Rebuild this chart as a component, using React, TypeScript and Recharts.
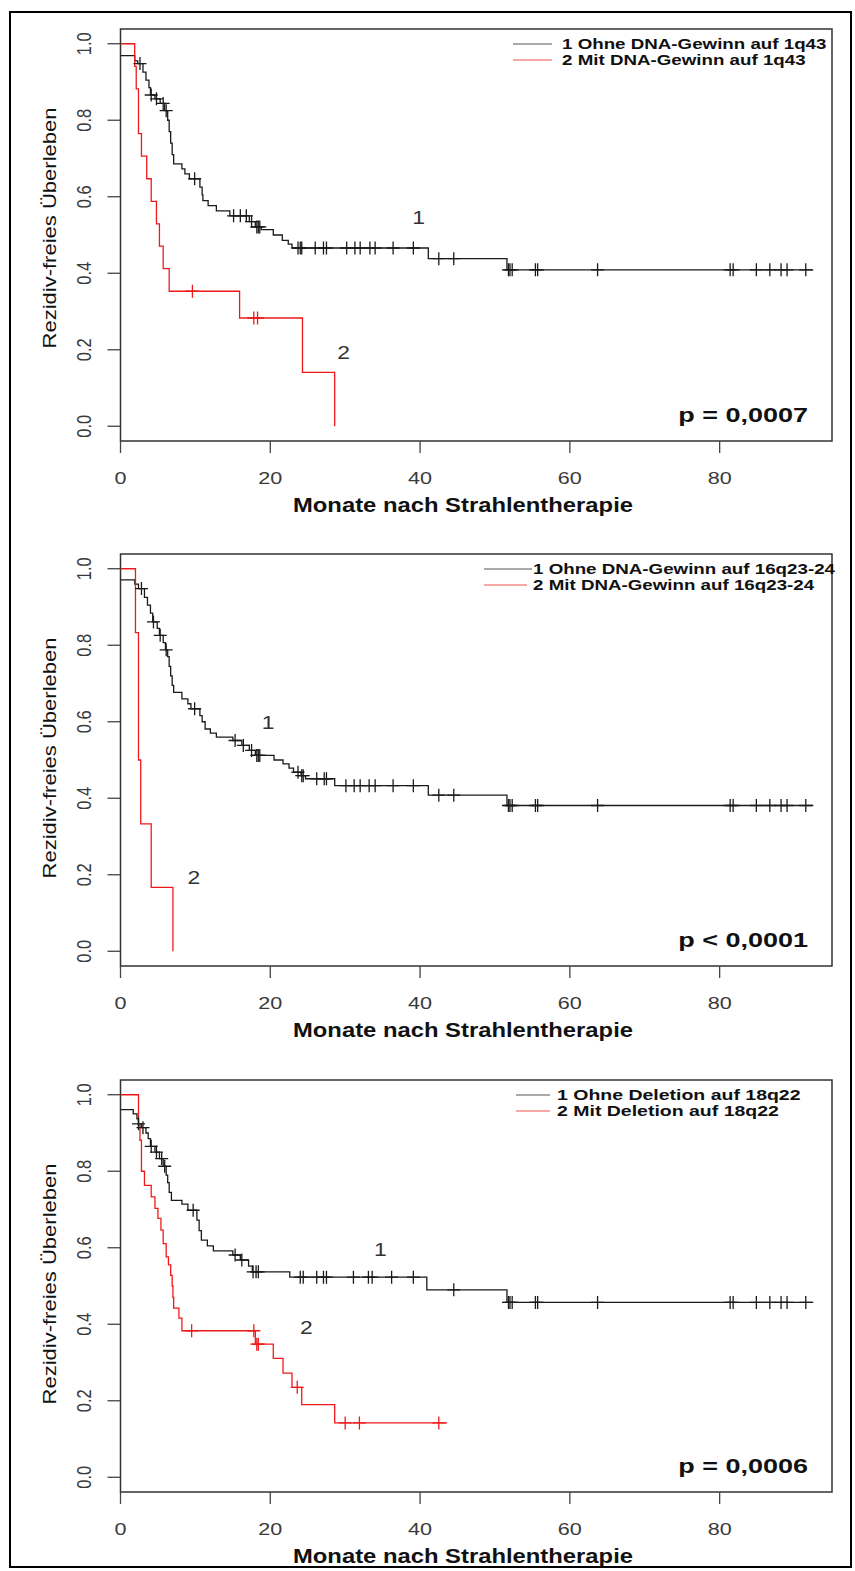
import React from 'react';
import { ComposedChart, Line, Scatter, XAxis, YAxis, ReferenceArea } from 'recharts';

const FONT = '"Liberation Sans", Arial, Helvetica, sans-serif';

const xTicks = [0, 20, 40, 60, 80];
const yTicks = [0, 0.2, 0.4, 0.6, 0.8, 1.0];
const xTitle = 'Monate nach Strahlentherapie';
const yTitle = 'Rezidiv-freies Überleben';

// Panel 1: DNA-Gewinn auf 1q43
const p1OhneTimes = [0, 1.9, 2.3, 3.0, 3.4, 3.8, 4.0, 4.6, 5.3, 5.9, 6.3, 6.5, 6.7, 6.9, 7.1, 8.2, 8.6, 9.2, 10.6, 10.9, 11.0, 11.7, 12.8, 14.6, 17.2, 18.0, 18.8, 20.4, 21.6, 22.4, 22.9, 41.1, 51.6];
const p1OhneSurv = [0.969, 0.955, 0.948, 0.926, 0.905, 0.885, 0.866, 0.856, 0.844, 0.825, 0.8, 0.77, 0.74, 0.71, 0.686, 0.673, 0.66, 0.647, 0.625, 0.605, 0.59, 0.577, 0.563, 0.55, 0.535, 0.521, 0.514, 0.5, 0.486, 0.476, 0.466, 0.438, 0.409];
const p1OhneCensor = [2.6, 4.1, 4.8, 5.7, 6.1, 9.9, 15.1, 16.0, 16.8, 17.5, 18.2, 18.4, 18.6, 23.7, 24.0, 24.2, 26.0, 27.1, 27.5, 30.2, 31.3, 32.0, 33.3, 34.0, 36.4, 39.1, 42.5, 44.5, 51.8, 52.0, 52.3, 55.4, 55.7, 63.7, 81.4, 81.8, 84.9, 86.7, 88.2, 89.0, 91.5];
const p1OhneEnd = 92.5;
const p1MitTimes = [0, 1.9, 2.1, 2.4, 2.8, 3.5, 4.1, 4.8, 5.2, 5.7, 6.5, 15.9, 24.3, 28.6];
const p1MitSurv = [1, 0.941, 0.882, 0.765, 0.706, 0.647, 0.588, 0.529, 0.471, 0.412, 0.353, 0.283, 0.141, 0];
const p1MitCensor = [9.6, 17.8, 18.3];
const p1MitEnd = 28.6;

// Panel 2: DNA-Gewinn auf 16q23-24
const p2OhneTimes = [0, 1.9, 2.4, 3.2, 3.6, 4.0, 4.3, 4.9, 5.2, 5.7, 6.0, 6.3, 6.5, 6.7, 6.9, 7.1, 8.2, 9.0, 9.4, 10.6, 10.9, 11.3, 12.0, 12.8, 15.0, 16.2, 17.2, 18.0, 20.5, 21.7, 22.5, 23.1, 24.1, 24.7, 28.6, 41.1, 51.6];
const p2OhneSurv = [0.971, 0.96, 0.948, 0.925, 0.905, 0.884, 0.861, 0.844, 0.826, 0.807, 0.788, 0.77, 0.745, 0.72, 0.695, 0.677, 0.66, 0.647, 0.634, 0.616, 0.6, 0.581, 0.57, 0.56, 0.551, 0.538, 0.525, 0.512, 0.5, 0.49, 0.479, 0.468, 0.459, 0.451, 0.433, 0.408, 0.381];
const p2OhneCensor = [2.8, 4.4, 5.3, 6.1, 9.9, 15.3, 16.4, 17.5, 18.2, 18.4, 18.6, 23.7, 24.2, 24.4, 26.2, 27.2, 27.5, 30.1, 31.2, 32.0, 33.2, 34.0, 36.4, 39.1, 42.5, 44.5, 51.8, 52.0, 52.3, 55.4, 55.7, 63.7, 81.4, 81.8, 84.9, 86.7, 88.2, 89.0, 91.5];
const p2OhneEnd = 92.5;
const p2MitTimes = [0, 2.0, 2.4, 2.7, 4.1, 7.0];
const p2MitSurv = [1, 0.833, 0.5, 0.333, 0.167, 0];
const p2MitCensor: number[] = [];
const p2MitEnd = 7.0;

// Panel 3: Deletion auf 18q22
const p3OhneTimes = [0, 1.7, 2.2, 2.4, 2.8, 3.4, 3.7, 4.0, 4.6, 5.2, 5.7, 6.1, 6.3, 6.5, 6.8, 8.2, 9.0, 10.2, 10.5, 10.8, 11.6, 12.4, 15.0, 16.0, 17.1, 17.6, 22.6, 40.9, 51.6];
const p3OhneSurv = [0.961, 0.95, 0.937, 0.924, 0.914, 0.9, 0.885, 0.865, 0.85, 0.833, 0.813, 0.79, 0.77, 0.745, 0.724, 0.714, 0.698, 0.672, 0.645, 0.62, 0.605, 0.592, 0.581, 0.568, 0.552, 0.537, 0.523, 0.49, 0.457];
const p3OhneCensor = [2.4, 3.0, 4.1, 4.8, 5.5, 5.9, 9.7, 15.3, 16.2, 17.7, 18.1, 18.4, 24.0, 24.4, 26.2, 27.1, 27.5, 31.1, 33.1, 33.6, 36.2, 39.1, 44.5, 51.8, 52.0, 52.3, 55.4, 55.7, 63.7, 81.4, 81.8, 84.9, 86.7, 88.2, 89.0, 91.5];
const p3OhneEnd = 92.5;
const p3MitTimes = [0, 2.4, 2.6, 2.8, 3.2, 4.1, 4.6, 5.0, 5.4, 5.7, 6.1, 6.4, 6.7, 6.9, 7.0, 7.1, 7.8, 8.2, 18.0, 20.4, 21.7, 22.9, 24.2, 28.6];
const p3MitSurv = [1, 0.92, 0.881, 0.8, 0.763, 0.733, 0.703, 0.677, 0.646, 0.611, 0.576, 0.555, 0.528, 0.5, 0.47, 0.442, 0.416, 0.383, 0.348, 0.311, 0.272, 0.235, 0.19, 0.142];
const p3MitCensor = [9.5, 17.8, 18.2, 18.4, 23.6, 30.0, 31.9, 42.5];
const p3MitEnd = 43.6;

// curve number labels ("1", "2") in data coordinates
const p1LabelT = [39.8, 29.8];
const p1LabelS = [0.546, 0.194];
const p2LabelT = [19.7, 9.8];
const p2LabelS = [0.597, 0.194];
const p3LabelT = [34.7, 24.8];
const p3LabelS = [0.596, 0.392];

const p1Legend = ['1 Ohne DNA-Gewinn auf 1q43', '2 Mit DNA-Gewinn auf 1q43'];
const p2Legend = ['1 Ohne DNA-Gewinn auf 16q23-24', '2 Mit DNA-Gewinn auf 16q23-24'];
const p3Legend = ['1 Ohne Deletion auf 18q22', '2 Mit Deletion auf 18q22'];
const pValues = ['p = 0,0007', 'p < 0,0001', 'p = 0,0006'];

const BLACK = '#1a1a1a';
const RED = '#f01818';
const Y_MIN = -0.0385;
const Y_MAX = 1.0385;
const BOX_TOP = 25;
const BOX_H = 412;

function survAt(times: number[], surv: number[], t: number) {
  let s = surv[0];
  for (let i = 0; i < times.length; i++) {
    if (times[i] <= t) s = surv[i];
  }
  return s;
}

function makeCurve(times: number[], surv: number[], censor: number[], end: number, color: string) {
  const line = times.map((t, i) => ({ t, s: surv[i] }));
  line.push({ t: end, s: surv[surv.length - 1] });
  const marks = censor.map((t) => ({ t, s: survAt(times, surv, t) }));
  return { line, marks, color };
}

function makeLabels(ts: number[], ss: number[]) {
  return ts.map((t, i) => ({ t, s: ss[i], text: String(i + 1) }));
}

const panels = [
  {
    top: 4,
    curves: [
      makeCurve(p1OhneTimes, p1OhneSurv, p1OhneCensor, p1OhneEnd, BLACK),
      makeCurve(p1MitTimes, p1MitSurv, p1MitCensor, p1MitEnd, RED),
    ],
    labels: makeLabels(p1LabelT, p1LabelS),
    legend: p1Legend,
    legendPos: { x1: 513, x2: [552, 552], tx: 562, sx: 1.25 },
    pValue: pValues[0],
    yTitleMid: 199,
  },
  {
    top: 529,
    curves: [
      makeCurve(p2OhneTimes, p2OhneSurv, p2OhneCensor, p2OhneEnd, BLACK),
      makeCurve(p2MitTimes, p2MitSurv, p2MitCensor, p2MitEnd, RED),
    ],
    labels: makeLabels(p2LabelT, p2LabelS),
    legend: p2Legend,
    legendPos: { x1: 484, x2: [532, 527], tx: 533, sx: 1.25 },
    pValue: pValues[1],
    yTitleMid: 204,
  },
  {
    top: 1055,
    curves: [
      makeCurve(p3OhneTimes, p3OhneSurv, p3OhneCensor, p3OhneEnd, BLACK),
      makeCurve(p3MitTimes, p3MitSurv, p3MitCensor, p3MitEnd, RED),
    ],
    labels: makeLabels(p3LabelT, p3LabelS),
    legend: p3Legend,
    legendPos: { x1: 516, x2: [550, 550], tx: 557, sx: 1.3 },
    pValue: pValues[2],
    yTitleMid: 204,
  },
];

const XTick = (props: any) => {
  const { x, y, payload } = props;
  return (
    <text transform={`translate(${x},${y + 31}) scale(1.27,1)`} textAnchor="middle" fontSize={17} fill="#3a3a3a" fontFamily={FONT}>
      {payload.value}
    </text>
  );
};

const YTick = (props: any) => {
  const { x, y, payload } = props;
  return (
    <text
      transform={`translate(${x - 24},${y}) scale(1.27,1) rotate(-90)`}
      textAnchor="middle"
      dominantBaseline="central"
      fontSize={16.5}
      fill="#3a3a3a"
      fontFamily={FONT}
    >
      {Number(payload.value).toFixed(1)}
    </text>
  );
};

function plusShape(color: string) {
  return (props: any) => {
    const { cx, cy } = props;
    return (
      <path
        d={`M${cx - 6.5},${cy}H${cx + 6.5}M${cx},${cy - 6.5}V${cy + 6.5}`}
        stroke={color}
        strokeWidth={1.3}
        fill="none"
      />
    );
  };
}

const CurveLabel = (props: any) => {
  const { cx, cy, payload } = props;
  return (
    <text
      transform={`translate(${cx},${cy}) scale(1.27,1)`}
      textAnchor="middle"
      dominantBaseline="central"
      fontSize={18}
      fill="#333"
      fontFamily={FONT}
    >
      {payload.text}
    </text>
  );
};

function Panel({ top, curves, labels, legend, legendPos, pValue, yTitleMid }: any) {
  const boxBottom = BOX_TOP + BOX_H;
  return (
    <div style={{ position: 'absolute', left: 0, top, width: 855, height: 512 }}>
      <ComposedChart width={855} height={512} margin={{ top: BOX_TOP, right: 23, bottom: 0, left: 40.5 }}>
        <XAxis
          type="number"
          dataKey="t"
          domain={[0, 95]}
          ticks={xTicks}
          height={75}
          tickSize={12}
          tickMargin={0}
          axisLine={false}
          tickLine={{ stroke: '#444', strokeWidth: 1.3 }}
          tick={(p: any) => <XTick {...p} />}
          allowDataOverflow
        />
        <YAxis
          type="number"
          domain={[Y_MIN, Y_MAX]}
          ticks={yTicks}
          width={80}
          tickSize={13}
          tickMargin={0}
          axisLine={false}
          tickLine={{ stroke: '#444', strokeWidth: 1.3 }}
          tick={(p: any) => <YTick {...p} />}
          allowDataOverflow
        />
        <ReferenceArea x1={0} x2={95} y1={Y_MIN} y2={Y_MAX} fill="none" stroke="#333" strokeWidth={1.5} fillOpacity={0} />
        {curves.map((c: any, i: number) => (
          <Line
            key={`line-${i}`}
            data={c.line}
            dataKey="s"
            type="stepAfter"
            stroke={c.color}
            strokeWidth={1.3}
            dot={false}
            isAnimationActive={false}
          />
        ))}
        {curves.map((c: any, i: number) => (
          <Scatter key={`cens-${i}`} data={c.marks} dataKey="s" shape={plusShape(c.color)} isAnimationActive={false} />
        ))}
        <Scatter data={labels} dataKey="s" shape={(p: any) => <CurveLabel {...p} />} isAnimationActive={false} />
      </ComposedChart>
      <svg style={{ position: 'absolute', left: 0, top: 0 }} width={855} height={512} fontFamily={FONT}>
        <text
          transform={`translate(49,${BOX_TOP + yTitleMid}) rotate(-90)`}
          textAnchor="middle"
          dominantBaseline="central"
          fontSize={19}
          fill="#111"
          textLength={241}
          lengthAdjust="spacingAndGlyphs"
        >
          {yTitle}
        </text>
        <text x={293} y={boxBottom + 70.5} fontSize={19.5} fontWeight="bold" fill="#111" textLength={340} lengthAdjust="spacingAndGlyphs">
          {xTitle}
        </text>
        {legend.map((label: string, i: number) => {
          const ly = BOX_TOP + 15 + i * 16;
          return (
            <g key={label}>
              <line x1={legendPos.x1} x2={legendPos.x2[i]} y1={ly} y2={ly} stroke={i === 0 ? '#555' : '#f25050'} strokeWidth={1.2} />
              <text transform={`translate(${legendPos.tx},${ly + 5.3}) scale(${legendPos.sx},1)`} fontSize={15} fontWeight="bold" fill="#111">
                {label}
              </text>
            </g>
          );
        })}
        <text transform={`translate(808,${boxBottom - 19.5}) scale(1.35,1)`} textAnchor="end" fontSize={20} fontWeight="bold" fill="#111">
          {pValue}
        </text>
      </svg>
    </div>
  );
}

export default function App() {
  return (
    <div style={{ position: 'absolute', left: 0, top: 0, width: 855, height: 1571, background: '#fff', overflow: 'hidden', fontFamily: FONT }}>
      <div style={{ position: 'absolute', left: 9, top: 11, width: 843, height: 1557, border: '2.5px solid #000', boxSizing: 'border-box' }} />
      {panels.map((p, i) => (
        <Panel key={i} {...p} />
      ))}
    </div>
  );
}
